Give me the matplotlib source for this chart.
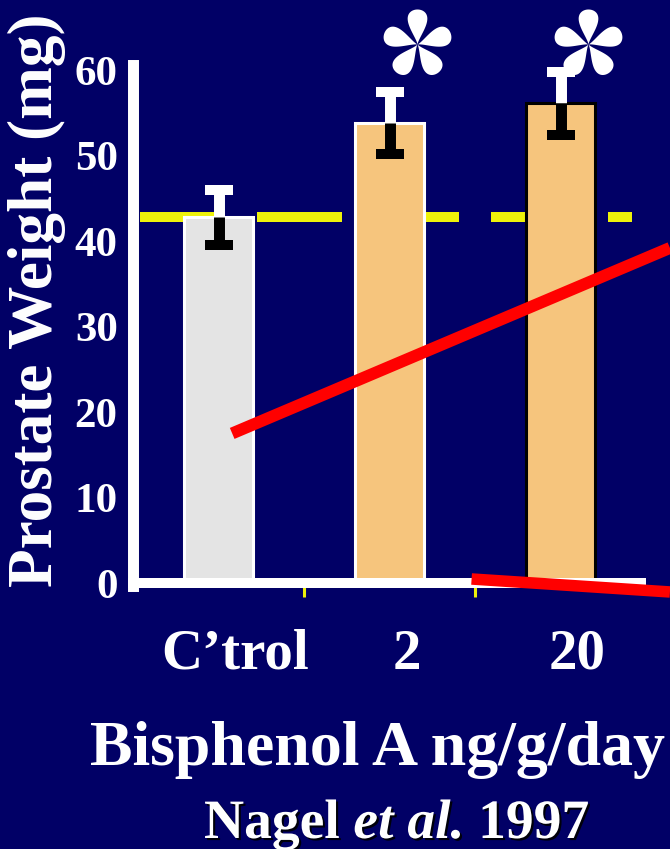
import matplotlib
matplotlib.use('Agg')
import matplotlib.pyplot as plt
import numpy as np
from matplotlib.path import Path
from matplotlib.transforms import ScaledTranslation
import matplotlib.patheffects as pe

# ---- data ----
categories = ["C\u2019trol", "2", "20"]
weights = [42.8, 53.8, 56.1]
sem = [3.2, 3.6, 3.7]
significant = [False, True, True]
control_mean = 42.8
yticks = [0, 10, 20, 30, 40, 50, 60]
ylabel = "Prostate Weight (mg)"
xlabel = "Bisphenol A ng/g/day"
citation = ["Nagel ", "et al.", " 1997"]
# hand-drawn red annotation strokes (data coords)
stroke_up_x = [0.08, 2.64]
stroke_up_y = [17.5, 39.2]
stroke_down_x = [1.48, 2.64]
stroke_down_y = [0.47, -1.05]

BG = '#010066'
bar_faces = ['#e4e4e4', '#f6c57d', '#f6c57d']
bar_edges = ['white', 'white', 'black']

plt.rcParams['font.family'] = ['Liberation Serif', 'DejaVu Serif']
plt.rcParams['font.weight'] = 'bold'

fig = plt.figure(figsize=(6.7, 8.49), dpi=100, facecolor=BG)
ax = fig.add_axes([133/670, (849-583)/849, 513/670, 518/849])
ax.set_facecolor(BG)

x = np.arange(len(categories))
ax.bar(x, weights, width=0.4035, color=bar_faces, edgecolor=bar_edges,
       linewidth=2.2, zorder=2)

# control reference line
ax.plot([-0.459, 2.418], [control_mean, control_mean], color='#eef20a',
        lw=7.2, dashes=(8.5, 3.2), dash_capstyle='butt', zorder=1)

# error bars: white up, black down
up = [w + s for w, s in zip(weights, sem)]
dn = [w - s for w, s in zip(weights, sem)]
ax.vlines(x, weights, up, color='white', lw=7.9, zorder=4)
ax.plot(x, up, ls='none', marker='_', ms=19.5, mew=7.2, color='white', zorder=4)
ax.vlines(x, dn, weights, color='black', lw=7.9, zorder=4)
ax.plot(x, dn, ls='none', marker='_', ms=19.5, mew=7.2, color='black', zorder=4)

# asterisk marker (5 teardrop petals)
def asterisk_path():
    verts, codes = [], []
    t = np.linspace(0, 2*np.pi, 80)
    px = (1 - np.cos(t)) / 2
    py = 0.42 * np.sin(t) * np.abs(np.sin(t/2))**1.8
    for k in range(5):
        a = np.deg2rad(90 + 72*k)
        X = px*np.cos(a) - py*np.sin(a)
        Y = px*np.sin(a) + py*np.cos(a)
        pts = np.column_stack([X, Y])
        verts.extend(pts.tolist())
        codes.extend([Path.MOVETO] + [Path.LINETO]*(len(pts)-2) + [Path.CLOSEPOLY])
    return Path(verts, codes)

star = asterisk_path()
sx = [xi + 0.16 for xi, s in zip(x, significant) if s]
sy = [63.0 for s in significant if s]
ax.plot(sx, sy, ls='none', marker=star, ms=50.4, color='white', mec='white',
        mew=0, clip_on=False, zorder=6)

# red strokes
ax.plot(stroke_up_x, stroke_up_y, color='#ff0000', lw=8.6,
        solid_capstyle='butt', clip_on=False, zorder=7)
ax.plot(stroke_down_x, stroke_down_y, color='#ff0000', lw=8.3,
        solid_capstyle='butt', clip_on=False, zorder=7)

ax.set_xlim(-0.5, 2.5)
ax.set_ylim(0, 60.6)

for side in ['top', 'right']:
    ax.spines[side].set_visible(False)
ax.spines['left'].set_color('white')
ax.spines['left'].set_linewidth(7.9)
ax.spines['bottom'].set_color('white')
ax.spines['bottom'].set_linewidth(7.2)
ax.spines['bottom'].set_bounds(-0.5, 2.47)
ax.spines['left'].set_bounds(-0.3, 60.6)
ax.spines['left'].set_zorder(5)
ax.spines['bottom'].set_zorder(5)

ax.set_yticks(yticks)
ax.set_yticklabels([str(v) for v in yticks])
ax.tick_params(axis='y', length=0, pad=11, labelsize=31, labelcolor='white')
ax.set_xticks(x)
ax.set_xticklabels(categories)
ax.tick_params(axis='x', which='major', length=0, pad=33, labelsize=41,
               labelcolor='white')
ax.set_xticks([0.5, 1.5], minor=True)
ax.tick_params(axis='x', which='minor', length=10, width=2.2, color='#eef20a',
               direction='out')
for lab in ax.get_xticklabels():
    lab.set_transform(lab.get_transform() +
                      ScaledTranslation(17/100, 0, fig.dpi_scale_trans))

fig.text(37/670, 1 - 300/849, ylabel, rotation=90, ha='center', va='center',
         color='white', fontsize=45.5, fontweight='bold')
fig.text(377/670, 1 - 765/849, xlabel, ha='center', va='baseline',
         color='white', fontsize=46, fontweight='bold')

# citation with shadow, mixed italic
renderer = fig.canvas.get_renderer()
shadow = [pe.withSimplePatchShadow(offset=(1.5, -1.5), shadow_rgbFace='black',
                                   alpha=0.9)]
styles = ['normal', 'italic', 'normal']
xpos = 204
for piece, st in zip(citation, styles):
    t = fig.text(xpos/670, 1 - 838/849, piece, ha='left', va='baseline',
                 color='white', fontsize=40, fontweight='bold', style=st,
                 path_effects=shadow)
    bb = t.get_window_extent(renderer)
    xpos = bb.x1

fig.savefig('out.png', dpi=100, facecolor=BG)
